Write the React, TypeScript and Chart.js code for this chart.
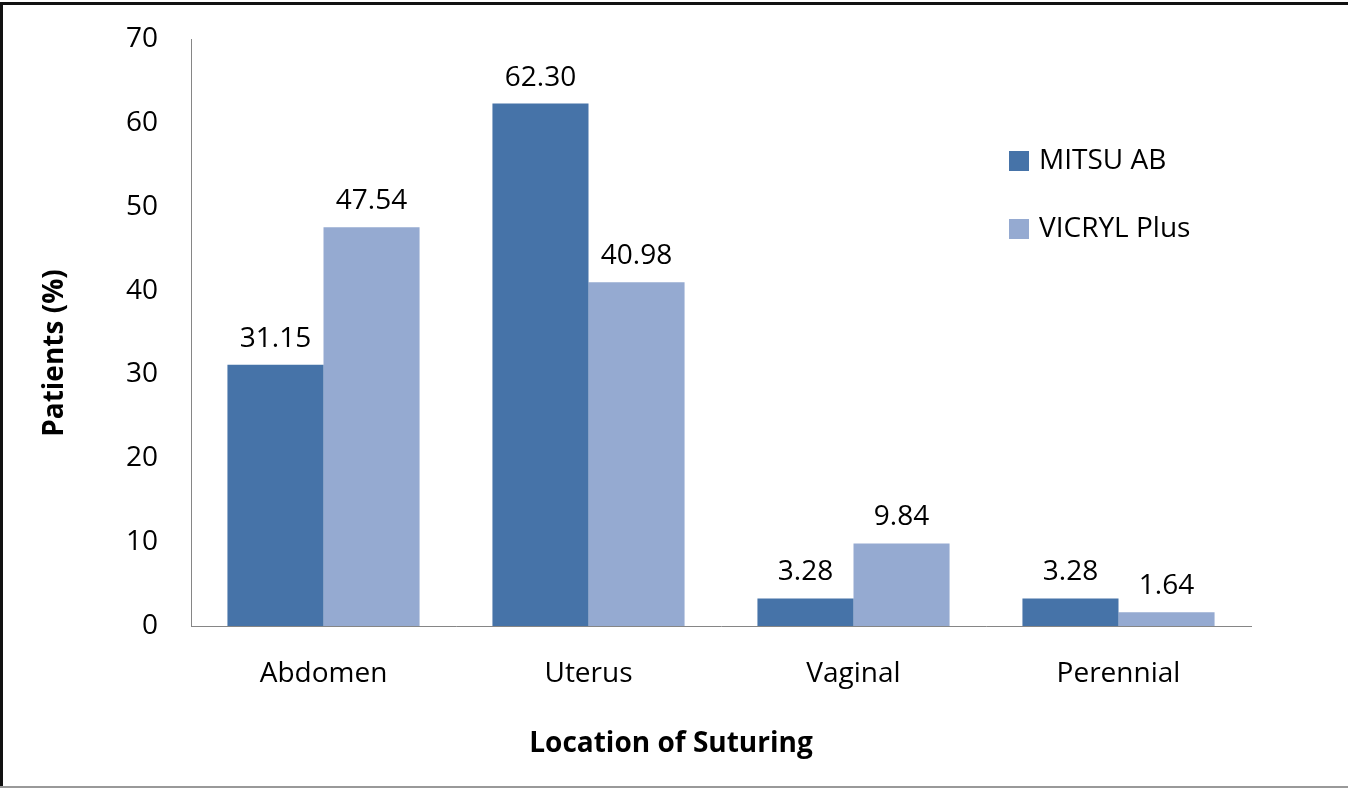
import React, { useEffect, useRef } from "react";
import { Chart, registerables } from "chart.js";

Chart.register(...registerables);

const categories = ["Abdomen", "Uterus", "Vaginal", "Perennial"];
const mitsuAB = [31.15, 62.3, 3.28, 3.28];
const vicrylPlus = [47.54, 40.98, 9.84, 1.64];
const seriesNames = ["MITSU AB", "VICRYL Plus"];
const yTickMax = 70;
const yTickStep = 10;
const xTitle = "Location of Suturing";
const yTitle = "Patients (%)";

const DARK = "#4673A8";
const LIGHT = "#95AAD1";
const FONT = "'Open Sans', sans-serif";

export default function App() {
  const ref = useRef<HTMLCanvasElement | null>(null);

  useEffect(() => {
    document.body.style.margin = "0";
    const canvas = ref.current;
    if (!canvas) return;

    const dataLabels = {
      id: "dataLabels",
      afterDatasetsDraw(chart: any) {
        const ctx = chart.ctx;
        ctx.save();
        ctx.font = `28px ${FONT}`;
        ctx.fillStyle = "#000";
        ctx.textAlign = "center";
        ctx.textBaseline = "bottom";
        chart.data.datasets.forEach((ds: any, di: number) => {
          const meta = chart.getDatasetMeta(di);
          meta.data.forEach((el: any, i: number) => {
            const v = ds.data[i] as number;
            ctx.fillText(v.toFixed(2), el.x, el.y - 12);
          });
        });
        ctx.restore();
      },
    };

    const decorations = {
      id: "decorations",
      afterDraw(chart: any) {
        const ctx = chart.ctx;
        ctx.save();
        // legend
        const ys = [161, 229];
        chart.data.datasets.forEach((ds: any, di: number) => {
          ctx.fillStyle = ds.backgroundColor;
          ctx.fillRect(1009, ys[di] - 10, 20, 20);
          ctx.fillStyle = "#000";
          ctx.font = `28px ${FONT}`;
          ctx.textAlign = "left";
          ctx.textBaseline = "middle";
          ctx.fillText(ds.label, 1039, ys[di]);
        });
        // axis titles
        ctx.fillStyle = "#000";
        ctx.font = `bold 28px ${FONT}`;
        ctx.textAlign = "center";
        ctx.textBaseline = "middle";
        ctx.fillText(xTitle, 671, 744);
        ctx.save();
        ctx.translate(55, 353);
        ctx.rotate(-Math.PI / 2);
        ctx.fillText(yTitle, 0, 0);
        ctx.restore();
        // frame
        ctx.fillStyle = "#111";
        ctx.fillRect(0, 2, 1348, 3);
        ctx.fillRect(0, 2, 3, 786);
        ctx.fillStyle = "#999";
        ctx.fillRect(0, 786, 1348, 2);
        ctx.restore();
      },
    };

    const chart = new Chart(canvas, {
      type: "bar",
      data: {
        labels: categories,
        datasets: [
          { label: seriesNames[0], data: mitsuAB, backgroundColor: DARK, categoryPercentage: 0.725, barPercentage: 1 },
          { label: seriesNames[1], data: vicrylPlus, backgroundColor: LIGHT, categoryPercentage: 0.725, barPercentage: 1 },
        ],
      },
      options: {
        responsive: false,
        animation: false,
        devicePixelRatio: 1,
        layout: { padding: { left: 0, top: 39, right: 97, bottom: 0 } },
        plugins: {
          legend: { display: false },
          tooltip: { enabled: false },
        },
        scales: {
          x: {
            grid: { display: false, drawTicks: false },
            border: { display: true, color: "#868686", width: 1 },
            ticks: { color: "#000", font: { family: FONT, size: 28 }, padding: 31 },
            title: { display: false },
            afterFit(scale: any) {
              scale.height = 162;
              scale.paddingLeft = 0;
              scale.paddingRight = 0;
            },
          },
          y: {
            min: 0,
            max: yTickMax,
            grid: { display: false, drawTicks: false },
            border: { display: true, color: "#868686", width: 1 },
            ticks: { stepSize: yTickStep, color: "#000", font: { family: FONT, size: 28 }, padding: 33 },
            title: { display: false },
            afterFit(scale: any) {
              scale.width = 191;
              scale.paddingTop = 0;
              scale.paddingBottom = 0;
            },
          },
        },
      },
      plugins: [dataLabels, decorations],
    } as any);

    return () => chart.destroy();
  }, []);

  return (
    <div style={{ background: "#fff", width: 1348, height: 788 }}>
      <canvas ref={ref} width={1348} height={788} style={{ display: "block", width: 1348, height: 788 }} />
    </div>
  );
}
